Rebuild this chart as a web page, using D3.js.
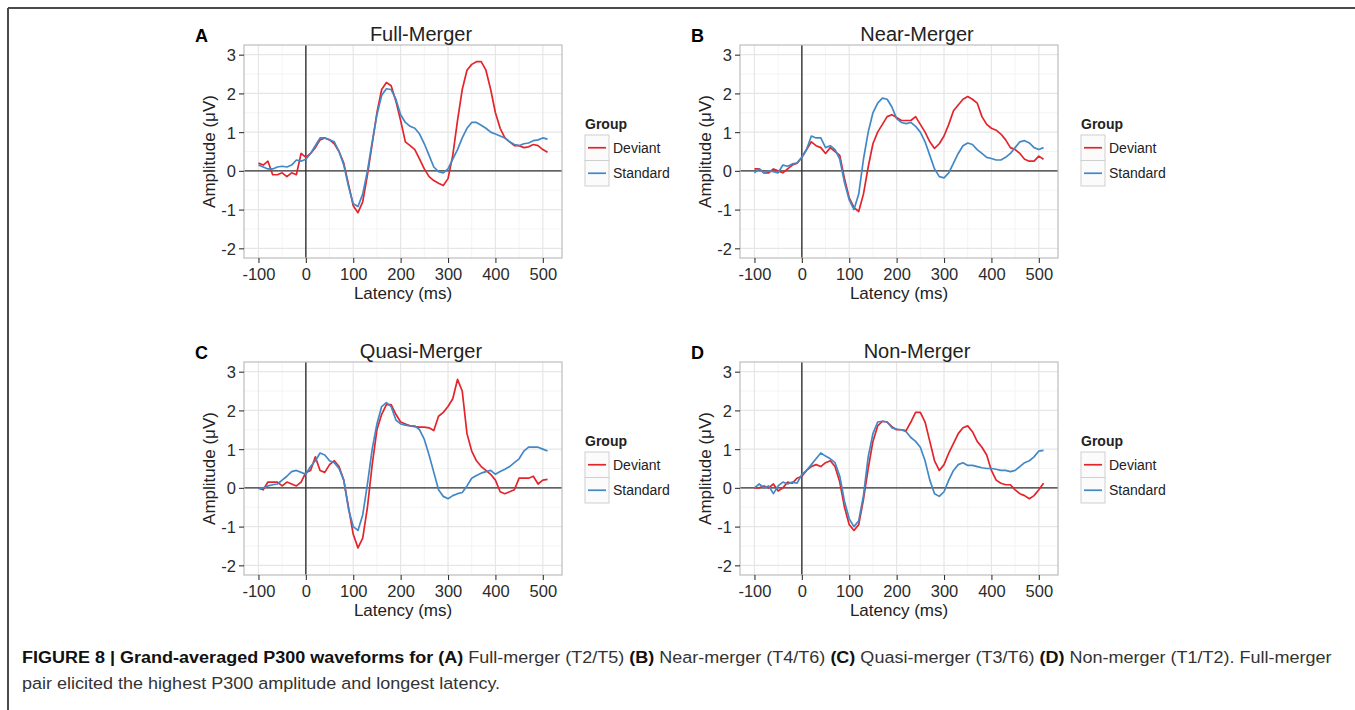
<!DOCTYPE html>
<html><head><meta charset="utf-8">
<script src="https://cdn.jsdelivr.net/npm/d3@7"></script>
<style>
body{margin:0;background:#fff}
svg{display:block}
text{font-family:"Liberation Sans",Arial,Helvetica,sans-serif}
</style>
</head><body>
<svg id="fig" width="1355" height="710"></svg>
<script>
// ---------------- data ----------------
const latency = [-100,-90,-80,-70,-60,-50,-40,-30,-20,-10,0,10,20,30,40,50,60,70,80,90,100,110,120,130,140,150,160,170,180,190,200,210,220,230,240,250,260,270,280,290,300,310,320,330,340,350,360,370,380,390,400,410,420,430,440,450,460,470,480,490,500,510];

const xTicks = [-100,0,100,200,300,400,500];
const yTicks = [-2,-1,0,1,2,3];
const groups = ["Deviant","Standard"];
const panelTitles = ["Full-Merger","Near-Merger","Quasi-Merger","Non-Merger"];
const panelLetters = ["A","B","C","D"];

const fullDeviant = [0.2,0.15,0.25,-0.1,-0.1,-0.05,-0.15,-0.05,-0.1,0.45,0.35,0.45,0.6,0.8,0.85,0.8,0.7,0.5,0.2,-0.35,-0.9,-1.08,-0.8,-0.1,0.7,1.5,2.1,2.28,2.2,1.8,1.3,0.75,0.65,0.55,0.3,0.05,-0.15,-0.25,-0.32,-0.38,-0.2,0.4,1.3,2.1,2.6,2.75,2.82,2.82,2.6,2.1,1.5,1.1,0.85,0.75,0.65,0.65,0.6,0.62,0.68,0.65,0.55,0.48];
const fullStandard = [0.15,0.1,0.05,0.05,0.1,0.12,0.1,0.15,0.28,0.25,0.3,0.45,0.65,0.85,0.85,0.8,0.75,0.5,0.15,-0.4,-0.85,-0.92,-0.6,0.0,0.75,1.45,1.95,2.12,2.1,1.85,1.45,1.25,1.15,1.1,0.95,0.7,0.4,0.1,-0.02,-0.05,0.05,0.3,0.55,0.85,1.1,1.25,1.25,1.18,1.1,1.0,0.95,0.9,0.85,0.75,0.68,0.65,0.7,0.72,0.78,0.8,0.85,0.82];

const nearDeviant = [0.05,0.05,-0.05,-0.05,0.05,0.0,-0.05,0.05,0.15,0.2,0.35,0.55,0.75,0.65,0.6,0.45,0.6,0.5,0.4,-0.2,-0.7,-0.95,-1.05,-0.6,0.1,0.7,1.0,1.2,1.4,1.45,1.38,1.3,1.3,1.3,1.4,1.2,1.0,0.75,0.58,0.7,0.9,1.2,1.55,1.7,1.85,1.92,1.85,1.75,1.4,1.2,1.1,1.05,0.95,0.8,0.6,0.55,0.45,0.3,0.25,0.25,0.38,0.3];
const nearStandard = [-0.05,0.05,-0.05,0.0,-0.02,-0.05,0.15,0.12,0.18,0.2,0.35,0.55,0.9,0.85,0.85,0.6,0.65,0.55,0.3,-0.3,-0.75,-1.0,-0.6,0.3,1.0,1.5,1.75,1.88,1.85,1.65,1.35,1.25,1.22,1.25,1.15,1.0,0.75,0.4,0.05,-0.15,-0.18,-0.05,0.2,0.45,0.65,0.72,0.68,0.55,0.45,0.35,0.32,0.28,0.28,0.35,0.45,0.6,0.75,0.78,0.72,0.6,0.55,0.6];

const quasiDeviant = [0.0,-0.05,0.15,0.15,0.15,0.05,0.15,0.1,0.05,0.15,0.4,0.45,0.8,0.45,0.4,0.6,0.7,0.55,0.2,-0.5,-1.2,-1.55,-1.3,-0.5,0.6,1.5,1.9,2.15,2.15,1.9,1.7,1.65,1.6,1.58,1.57,1.57,1.55,1.48,1.85,1.95,2.1,2.3,2.8,2.5,1.4,0.95,0.7,0.55,0.45,0.35,0.2,-0.1,-0.15,-0.1,-0.05,0.25,0.25,0.25,0.3,0.1,0.2,0.22];
const quasiStandard = [-0.02,0.0,0.05,0.08,0.1,0.2,0.3,0.42,0.45,0.4,0.35,0.55,0.7,0.9,0.85,0.7,0.65,0.5,0.2,-0.55,-1.0,-1.1,-0.7,0.1,1.0,1.65,2.1,2.2,2.1,1.75,1.65,1.62,1.6,1.6,1.5,1.25,0.85,0.4,-0.05,-0.22,-0.28,-0.2,-0.15,-0.12,0.05,0.25,0.32,0.38,0.42,0.45,0.35,0.42,0.48,0.55,0.65,0.75,0.95,1.05,1.05,1.05,1.0,0.95];

const nonDeviant = [0.0,0.0,0.05,0.0,0.1,-0.08,0.0,0.15,0.12,0.25,0.3,0.45,0.55,0.6,0.55,0.65,0.7,0.55,0.15,-0.5,-0.95,-1.1,-0.95,-0.3,0.5,1.2,1.6,1.72,1.7,1.58,1.5,1.5,1.48,1.7,1.95,1.95,1.7,1.2,0.7,0.45,0.6,0.9,1.15,1.4,1.55,1.6,1.45,1.2,1.05,0.85,0.45,0.2,0.12,0.08,0.08,-0.05,-0.15,-0.2,-0.28,-0.2,-0.05,0.12];
const nonStandard = [0.0,0.1,0.0,0.05,-0.15,0.05,0.15,0.1,0.15,0.12,0.35,0.45,0.6,0.75,0.9,0.82,0.75,0.65,0.3,-0.35,-0.8,-1.0,-0.85,-0.2,0.8,1.4,1.7,1.72,1.7,1.55,1.52,1.5,1.45,1.3,1.2,1.05,0.7,0.2,-0.15,-0.22,-0.1,0.2,0.45,0.6,0.65,0.58,0.58,0.55,0.52,0.5,0.5,0.48,0.45,0.45,0.42,0.45,0.55,0.65,0.7,0.8,0.95,0.97];

const seriesByPanel = [
  [fullDeviant, fullStandard],
  [nearDeviant, nearStandard],
  [quasiDeviant, quasiStandard],
  [nonDeviant, nonStandard]
];

// ---------------- layout ----------------
const colors = ["#e3242b", "#4388c6"];
const PW = 318, PH = 213;
const origins = [[244,45],[740,45],[244,362],[740,362]];
const xDomain = [-130.5, 540.5];
const yDomain = [-2.25, 3.25];

const svg = d3.select("#fig");

// figure frame
svg.append("line").attr("x1",8).attr("y1",8).attr("x2",1355).attr("y2",8).attr("stroke","#4a4a4a").attr("stroke-width",2);
svg.append("line").attr("x1",8).attr("y1",8).attr("x2",8).attr("y2",710).attr("stroke","#4a4a4a").attr("stroke-width",2);

const x = d3.scaleLinear().domain(xDomain).range([0, PW]);
const y = d3.scaleLinear().domain(yDomain).range([PH, 0]);
const xMinor = [-50,50,150,250,350,450];
const yMinor = [-1.5,-0.5,0.5,1.5,2.5];
const fmt = d => String(d);

panelTitles.forEach((title, i) => {
  const [ox, oy] = origins[i];
  const g = svg.append("g").attr("transform", `translate(${ox},${oy})`);

  g.append("rect").attr("width",PW).attr("height",PH).attr("fill","#fff");
  // minor grid
  g.selectAll(".xm").data(xMinor).enter().append("line")
    .attr("x1",d=>x(d)).attr("x2",d=>x(d)).attr("y1",0).attr("y2",PH)
    .attr("stroke","#f4f4f4").attr("stroke-width",1);
  g.selectAll(".ym").data(yMinor).enter().append("line")
    .attr("y1",d=>y(d)).attr("y2",d=>y(d)).attr("x1",0).attr("x2",PW)
    .attr("stroke","#f4f4f4").attr("stroke-width",1);
  // major grid
  g.selectAll(".xg").data(xTicks).enter().append("line")
    .attr("x1",d=>x(d)).attr("x2",d=>x(d)).attr("y1",0).attr("y2",PH)
    .attr("stroke","#e6e6e6").attr("stroke-width",1.2);
  g.selectAll(".yg").data(yTicks).enter().append("line")
    .attr("y1",d=>y(d)).attr("y2",d=>y(d)).attr("x1",0).attr("x2",PW)
    .attr("stroke","#e6e6e6").attr("stroke-width",1.2);

  // zero lines
  g.append("line").attr("x1",0).attr("x2",PW).attr("y1",y(0)).attr("y2",y(0)).attr("stroke","#333").attr("stroke-width",1.4);
  g.append("line").attr("x1",x(0)).attr("x2",x(0)).attr("y1",0).attr("y2",PH).attr("stroke","#333").attr("stroke-width",1.4);

  // series
  const line = d3.line().x((d,k)=>x(latency[k])).y(d=>y(d));
  seriesByPanel[i].forEach((vals, s) => {
    g.append("path").attr("d", line(vals)).attr("fill","none")
      .attr("stroke", colors[s]).attr("stroke-width",1.7).attr("stroke-linejoin","round");
  });

  // border
  g.append("rect").attr("width",PW).attr("height",PH).attr("fill","none").attr("stroke","#bdbdbd").attr("stroke-width",1.2);

  // axes
  const xa = g.append("g").attr("transform",`translate(0,${PH})`)
    .call(d3.axisBottom(x).tickValues(xTicks).tickSize(5).tickPadding(2).tickFormat(fmt));
  const ya = g.append("g")
    .call(d3.axisLeft(y).tickValues(yTicks).tickSize(5).tickPadding(3).tickFormat(fmt));
  [xa, ya].forEach(a => {
    a.select(".domain").remove();
    a.selectAll(".tick line").attr("stroke","#333").attr("stroke-width",1.1);
    a.selectAll(".tick text").attr("fill","#2b2b2b").style("font-size","16.5px")
      .style("font-family","'Liberation Sans',Arial,sans-serif");
  });
  xa.selectAll(".tick text").attr("dy","0.9em");
  ya.selectAll(".tick text").attr("dy","0.36em");

  // axis titles
  g.append("text").attr("x",PW/2).attr("y",PH+41).attr("text-anchor","middle")
    .style("font-size","17px").attr("fill","#222").text("Latency (ms)");
  g.append("text").attr("transform",`translate(-29,${PH/2}) rotate(-90)`).attr("text-anchor","middle")
    .style("font-size","17px").attr("fill","#222").text("Amplitude (μV)");

  // title + letter
  g.append("text").attr("x",177).attr("y",-4).attr("text-anchor","middle")
    .style("font-size","20px").attr("fill","#222").text(title);
  g.append("text").attr("x",-49).attr("y",-3).style("font-size","18px").style("font-weight","bold")
    .attr("fill","#000").text(panelLetters[i]);

  // legend
  const lg = g.append("g").attr("transform",`translate(${PW+23},0)`);
  lg.append("text").attr("x",0).attr("y",84).style("font-size","14px").style("font-weight","bold")
    .attr("fill","#222").text("Group");
  groups.forEach((name, k) => {
    const ky = 90 + k*25.5;
    lg.append("rect").attr("x",0).attr("y",ky).attr("width",24).attr("height",25.5)
      .attr("fill","#fbfbfb").attr("stroke","#cfcfcf").attr("stroke-width",1);
    lg.append("line").attr("x1",3).attr("x2",21).attr("y1",ky+12.75).attr("y2",ky+12.75)
      .attr("stroke",colors[k]).attr("stroke-width",1.7);
    lg.append("text").attr("x",28).attr("y",ky+12.75).attr("dy","0.36em")
      .style("font-size","14px").attr("fill","#222").text(name);
  });
});

// caption
const cap = svg.append("g");
const t1 = cap.append("text").attr("x",0).attr("y",663).style("font-size","17px").attr("fill","#222");
const segs = [
  ["FIGURE 8 | Grand-averaged P300 waveforms for (A)", true],
  [" Full-merger (T2/T5) ", false],
  ["(B)", true],
  [" Near-merger (T4/T6) ", false],
  ["(C)", true],
  [" Quasi-merger (T3/T6) ", false],
  ["(D)", true],
  [" Non-merger (T1/T2). Full-merger", false]
];
segs.forEach(([s,b]) => {
  t1.append("tspan").style("font-weight", b ? "bold" : "normal").attr("fill", b ? "#111" : "#333")
    .attr("xml:space","preserve").text(s);
});
const t2 = cap.append("text").attr("x",0).attr("y",689).style("font-size","17px").attr("fill","#333")
  .text("pair elicited the highest P300 amplitude and longest latency.");
const w = t1.node().getComputedTextLength();
const sx = 1311 / w;
cap.attr("transform", `translate(22,0) scale(${sx},1)`);
</script>
</body></html>
